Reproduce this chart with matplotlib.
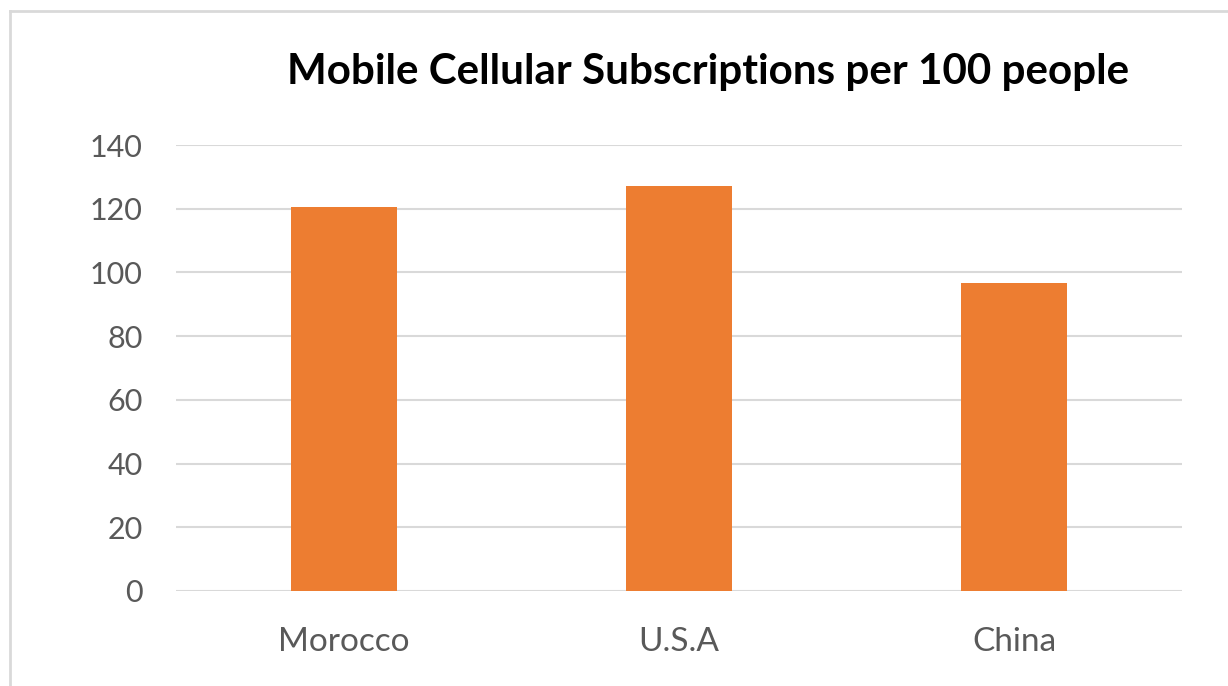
import matplotlib
matplotlib.use('Agg')
import matplotlib.pyplot as plt
from matplotlib.lines import Line2D

countries = ['Morocco', 'U.S.A', 'China']
subscriptions = [120.7, 127.2, 96.8]
yticks = [0, 20, 40, 60, 80, 100, 120, 140]

plt.rcParams['font.family'] = ['Lato', 'DejaVu Sans']

fig = plt.figure(figsize=(12.28, 6.86), dpi=100, facecolor='w')
ax = fig.add_axes([0.1433, 0.1385, 0.8192, 0.6501])

ax.bar(range(len(countries)), subscriptions, width=0.316, color='#ED7D31', zorder=3)

ax.set_xlim(-0.5, len(countries) - 0.5)
ax.set_ylim(0, 140)
ax.set_yticks(yticks)
ax.set_xticks(range(len(countries)))
ax.set_xticklabels(countries)
ax.yaxis.grid(True, color='#D9D9D9', linewidth=1.5, zorder=0)
for s in ax.spines.values():
    s.set_visible(False)
ax.tick_params(axis='y', length=0, labelsize=22, labelcolor='#595959', pad=24)
ax.tick_params(axis='x', length=0, labelsize=24, labelcolor='#595959', pad=26)

fig.text(0.5766, 0.895, 'Mobile Cellular Subscriptions per 100 people',
         ha='center', va='center', fontsize=30.3, fontweight='bold', color='black')

# chart border (left and top edges visible)
fig.add_artist(Line2D([10 / 1228, 10 / 1228], [0, 1 - 11 / 686],
                      transform=fig.transFigure, color='#D9D9D9', linewidth=2))
fig.add_artist(Line2D([10 / 1228, 1], [1 - 11 / 686, 1 - 11 / 686],
                      transform=fig.transFigure, color='#D9D9D9', linewidth=2))

fig.savefig('out.png', dpi=100, facecolor='w')
